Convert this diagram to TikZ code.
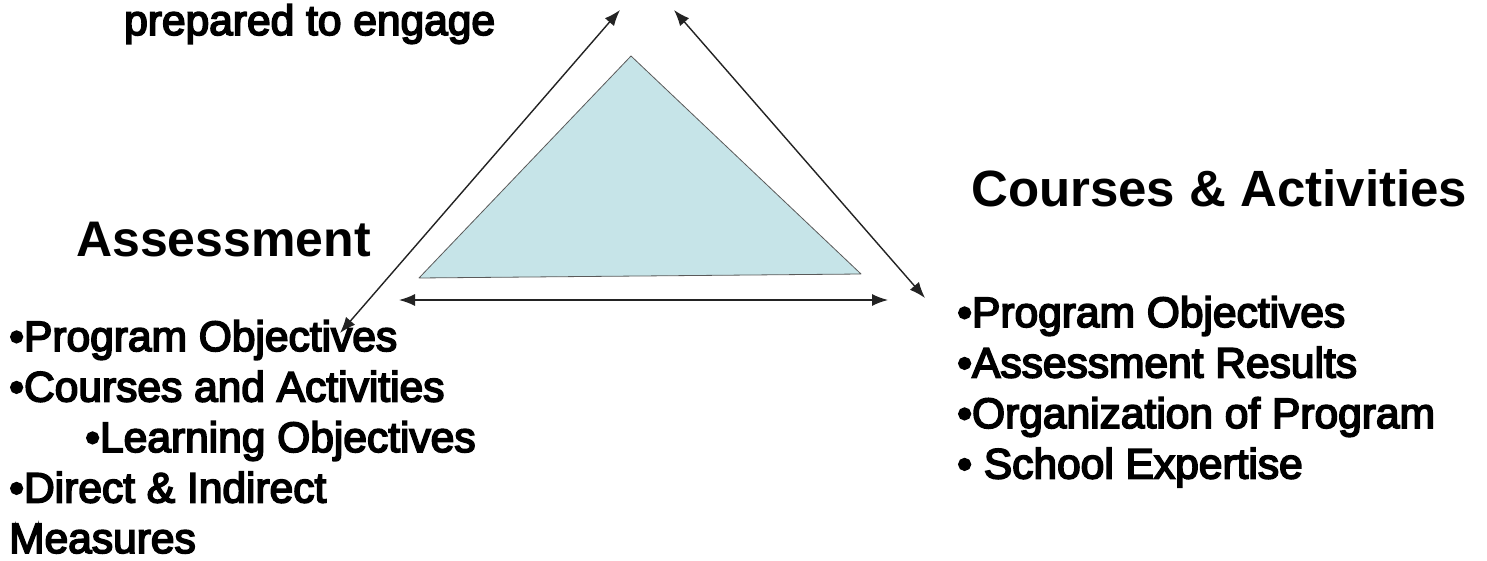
\documentclass[tikz,border=0pt]{standalone}
\usepackage{fontspec}
\setmainfont{Liberation Sans}
\newfontfamily\thickfont[FakeBold=4]{Liberation Sans}
\usetikzlibrary{arrows.meta}
\definecolor{triblue}{RGB}{198,228,232}
\definecolor{edgegray}{RGB}{90,90,90}
\definecolor{linkgray}{RGB}{35,35,35}
\tikzset{
  txt/.style={anchor=base west, inner sep=0pt, font=\thickfont\fontsize{42.5}{42.5}\selectfont},
  head/.style={anchor=base west, inner sep=0pt, font=\bfseries\fontsize{50}{50}\selectfont},
  link/.style={draw=linkgray, line width=1.4pt, {Latex[length=16pt,width=12pt]}-{Latex[length=16pt,width=12pt]}},
  tri/.style={fill=triblue, draw=edgegray, line width=0.8pt, line join=round}
}
\begin{document}
\begin{tikzpicture}[x=1pt,y=-1pt]
\useasboundingbox (0,0) rectangle (1487,561);
\fill[white] (0,0) rectangle (1487,561);
% central triangle
\coordinate (apex) at (631,56);
\coordinate (tl) at (419,278);
\coordinate (tr) at (861,274);
\draw[tri] (apex) -- (tr) -- (tl) -- cycle;
% arrow ends
\coordinate (lt) at (620,10);
\coordinate (lb) at (340,333);
\coordinate (rt) at (674,10);
\coordinate (rb) at (925,298);
\coordinate (bl) at (399,300);
\coordinate (br) at (888,300);
\draw[link] (lb) -- (lt);
\draw[link] (rt) -- (rb);
\draw[link] (bl) -- (br);
% texts
\node[txt] (prep) at (124,35) {prepared to engage};
\node[head] (assess) at (76,256) {Assessment};
\node[head, font=\bfseries\fontsize{51}{51}\selectfont] (courses) at (971,207) {Courses \& Activities};
% left list
\node[txt] (a1) at (9,351) {•Program Objectives};
\node[txt] (a2) at (9,401.5) {•Courses and Activities};
\node[txt] (a3) at (85,452) {•Learning Objectives};
\node[txt] (a4) at (9,502.5) {•Direct \& Indirect};
\node[txt] (a5) at (9,553) {Measures};
% right list
\node[txt] (c1) at (957,327) {•Program Objectives};
\node[txt] (c2) at (957,377.5) {•Assessment Results};
\node[txt] (c3) at (957,428) {•Organization of Program};
\node[txt] (c4) at (957,478.5) {• School Expertise};
\end{tikzpicture}
\end{document}
